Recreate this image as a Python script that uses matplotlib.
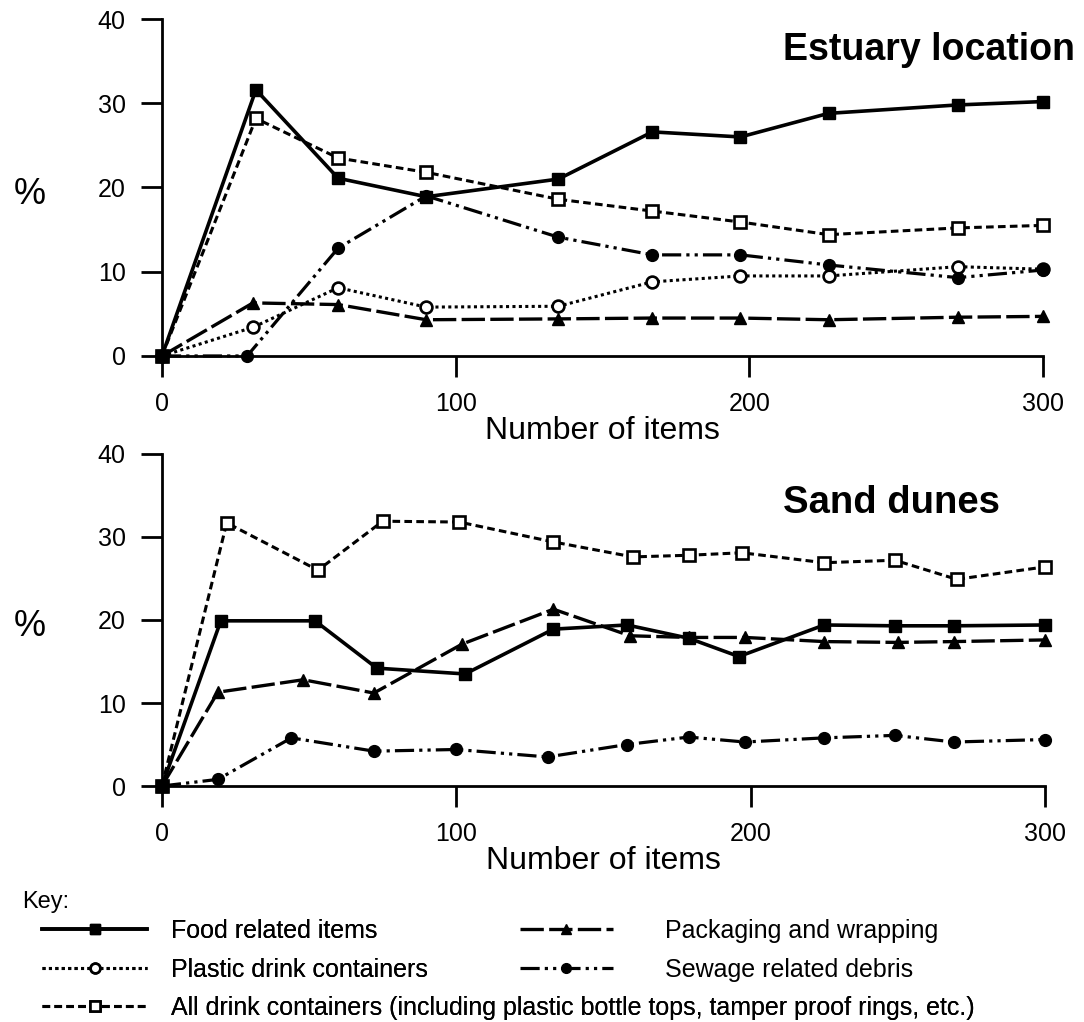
import matplotlib
matplotlib.use('Agg')
import matplotlib.pyplot as plt
from matplotlib.lines import Line2D

plt.rcParams['font.family'] = ['Liberation Sans', 'DejaVu Sans']

# Estuary location
est_food_x = [0, 32, 60, 90, 135, 167, 197, 227, 271, 300]
est_food_y = [0, 31.6, 21.1, 18.9, 21.0, 26.6, 26.0, 28.8, 29.8, 30.2]
est_all_x = [0, 32, 60, 90, 135, 167, 197, 227, 271, 300]
est_all_y = [0, 28.2, 23.5, 21.8, 18.6, 17.2, 15.9, 14.4, 15.2, 15.5]
est_plastic_x = [0, 31, 60, 90, 135, 167, 197, 227, 271, 300]
est_plastic_y = [0, 3.4, 8.1, 5.8, 5.9, 8.8, 9.5, 9.5, 10.6, 10.3]
est_pack_x = [0, 31, 60, 90, 135, 167, 197, 227, 271, 300]
est_pack_y = [0, 6.3, 6.1, 4.3, 4.4, 4.5, 4.5, 4.3, 4.6, 4.7]
est_sew_x = [0, 29, 60, 90, 135, 167, 197, 227, 271, 300]
est_sew_y = [0, 0, 12.8, 19.0, 14.1, 12.0, 12.0, 10.8, 9.3, 10.2]

# Sand dunes
dun_all_x = [0, 22, 53, 75, 101, 133, 160, 179, 197, 225, 249, 270, 300]
dun_all_y = [0, 31.7, 26.0, 31.9, 31.8, 29.4, 27.6, 27.8, 28.1, 26.9, 27.2, 24.9, 26.4]
dun_food_x = [0, 20, 52, 73, 103, 133, 158, 179, 196, 225, 249, 269, 300]
dun_food_y = [0, 19.9, 19.9, 14.2, 13.5, 18.9, 19.4, 17.8, 15.6, 19.4, 19.3, 19.3, 19.4]
dun_pack_x = [0, 19, 48, 72, 102, 133, 159, 179, 198, 225, 250, 269, 300]
dun_pack_y = [0, 11.3, 12.8, 11.2, 17.1, 21.3, 18.1, 17.9, 17.9, 17.4, 17.3, 17.4, 17.6]
dun_sew_x = [0, 19, 44, 72, 100, 131, 158, 179, 198, 225, 249, 269, 300]
dun_sew_y = [0, 0.8, 5.8, 4.2, 4.4, 3.5, 5.0, 5.9, 5.3, 5.8, 6.1, 5.3, 5.6]

labels = ['Food related items', 'Packaging and wrapping',
          'Plastic drink containers', 'Sewage related debris',
          'All drink containers (including plastic bottle tops, tamper proof rings, etc.)']

ms = 8.5
styles = {
    'food': dict(color='black', lw=2.6, ls='-', marker='s', ms=ms, mfc='black'),
    'pack': dict(color='black', lw=2.4, ls=(0, (7, 1.6)), marker='^', ms=ms, mfc='black'),
    'plastic': dict(color='black', lw=2.2, ls=(0, (1, 1.1)), marker='o', ms=ms, mfc='white', mew=1.9),
    'sew': dict(color='black', lw=2.3, ls=(0, (6, 1.6, 1, 1.6, 1, 1.6)), marker='o', ms=ms, mfc='black'),
    'all': dict(color='black', lw=2.2, ls=(0, (2.5, 1.4)), marker='s', ms=ms, mfc='white', mew=1.9),
}

fig = plt.figure(figsize=(10.84, 10.22), dpi=100)
ax1 = fig.add_axes([0.1494, 0.6517, 0.8127, 0.3297])
ax2 = fig.add_axes([0.1494, 0.2309, 0.8146, 0.3249])

ax1.plot(est_all_x, est_all_y, clip_on=False, **styles['all'])
ax1.plot(est_plastic_x, est_plastic_y, clip_on=False, **styles['plastic'])
ax1.plot(est_pack_x, est_pack_y, clip_on=False, **styles['pack'])
ax1.plot(est_sew_x, est_sew_y, clip_on=False, **styles['sew'])
ax1.plot(est_food_x, est_food_y, clip_on=False, **styles['food'])

ax2.plot(dun_all_x, dun_all_y, clip_on=False, **styles['all'])
ax2.plot(dun_pack_x, dun_pack_y, clip_on=False, **styles['pack'])
ax2.plot(dun_sew_x, dun_sew_y, clip_on=False, **styles['sew'])
ax2.plot(dun_food_x, dun_food_y, clip_on=False, **styles['food'])

for ax in (ax1, ax2):
    ax.set_xlim(0, 300)
    ax.set_ylim(0, 40)
    ax.set_xticks([0, 100, 200, 300])
    ax.set_yticks([0, 10, 20, 30, 40])
    ax.spines['top'].set_visible(False)
    ax.spines['right'].set_visible(False)
    ax.spines['left'].set_linewidth(2)
    ax.spines['bottom'].set_linewidth(2)
    ax.tick_params(length=15, width=2, labelsize=18, pad=11)
    ax.set_xlabel('Number of items', fontsize=23, labelpad=0)
    ax.set_ylabel('%', fontsize=26, rotation=0, va='center')
    ax.yaxis.set_label_coords(-0.15, 0.48)

fig.text(783 / 1084, 1 - 50 / 1022, 'Estuary location', fontsize=27,
         fontweight='bold', ha='left', va='center')
fig.text(783 / 1084, 1 - 503 / 1022, 'Sand dunes', fontsize=27.5,
         fontweight='bold', ha='left', va='center')

# key
fig.text(22 / 1084, 1 - 902 / 1022, 'Key:', fontsize=17, ha='left', va='center')

def handle(key):
    st = dict(styles[key])
    st['ms'] = 7
    return Line2D([], [], **st)

leg1 = fig.legend([handle('food'), handle('plastic'), handle('all')],
                  [labels[0], labels[2], labels[4]],
                  loc='upper left', bbox_to_anchor=(42 / 1084, 1 - 919 / 1022),
                  frameon=False, fontsize=18, borderpad=0, borderaxespad=0,
                  handlelength=4.2, handletextpad=0.95, labelspacing=0.58,
                  numpoints=1)
fig.add_artist(leg1)
fig.legend([handle('pack'), handle('sew')], [labels[1], labels[3]],
           loc='upper left', bbox_to_anchor=(520 / 1084, 1 - 919 / 1022),
           frameon=False, fontsize=18, borderpad=0, borderaxespad=0,
           handlelength=3.7, handletextpad=2.1, labelspacing=0.58,
           numpoints=1)

fig.savefig('out.png', dpi=100)
